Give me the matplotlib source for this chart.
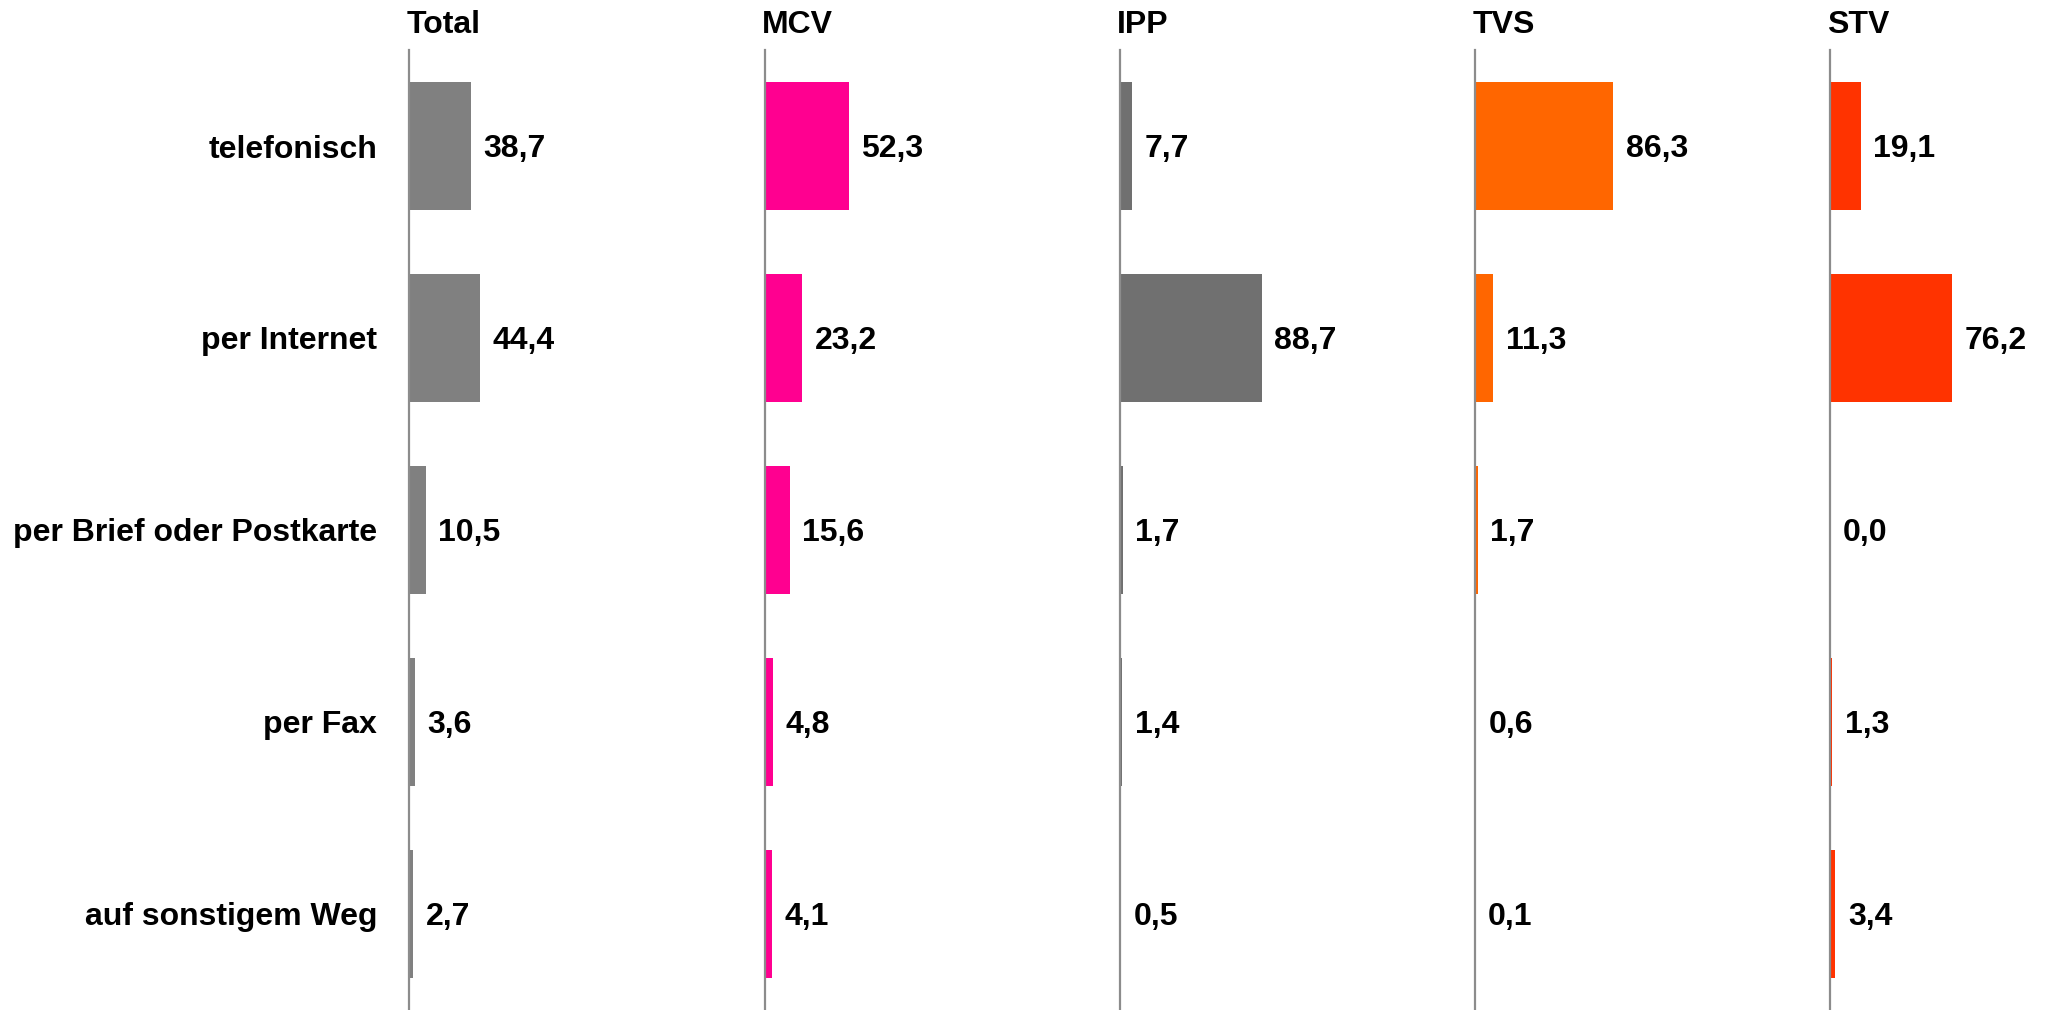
import matplotlib
matplotlib.use("Agg")
import matplotlib.pyplot as plt

# data (percent)
categories = ["telefonisch", "per Internet", "per Brief oder Postkarte", "per Fax", "auf sonstigem Weg"]
groups = ["Total", "MCV", "IPP", "TVS", "STV"]
total = [38.7, 44.4, 10.5, 3.6, 2.7]
mcv = [52.3, 23.2, 15.6, 4.8, 4.1]
ipp = [7.7, 88.7, 1.7, 1.4, 0.5]
tvs = [86.3, 11.3, 1.7, 0.6, 0.1]
stv = [19.1, 76.2, 0.0, 1.3, 3.4]
colors = ["#808080", "#FF0090", "#707070", "#FF6600", "#FF3300"]

plt.rcParams['font.family'] = ['Liberation Sans', 'DejaVu Sans']
plt.rcParams['font.weight'] = 'bold'

W, H = 2061, 1010
fig = plt.figure(figsize=(W / 100, H / 100), dpi=100)

spine_x = [409, 765, 1120, 1475, 1830]   # pixel position of each panel's axis line
top_px = 50
panel_w = 320
xmax = 200
fs = 23

series = [total, mcv, ipp, tvs, stv]
for k, (name, vals, col) in enumerate(zip(groups, series, colors)):
    ax = fig.add_axes([spine_x[k] / W, 0, panel_w / W, (H - top_px) / H])
    ax.barh(range(len(categories)), vals, height=0.67, color=col)
    ax.set_xlim(0, xmax)
    ax.set_ylim(4.5, -0.5)
    for s in ["top", "right", "bottom"]:
        ax.spines[s].set_visible(False)
    ax.spines["left"].set_color("#8c8c8c")
    ax.spines["left"].set_linewidth(1.6)
    ax.set_xticks([])
    if k == 0:
        ax.set_yticks(range(len(categories)))
        ax.set_yticklabels(categories, fontsize=fs, fontweight='bold')
        ax.tick_params(axis='y', length=0, pad=23)
    else:
        ax.set_yticks([])
    for i, v in enumerate(vals):
        ax.annotate(f"{v:.1f}".replace(".", ","), xy=(v, i), xytext=(9, 0),
                    textcoords="offset points", ha="left", va="center_baseline",
                    fontsize=fs, fontweight='bold')
    ax.annotate(name, xy=(0, 1), xycoords="axes fraction", xytext=(-2, 12),
                textcoords="offset points", ha="left", va="baseline",
                fontsize=fs, fontweight='bold')

fig.savefig("out.png", dpi=100)
